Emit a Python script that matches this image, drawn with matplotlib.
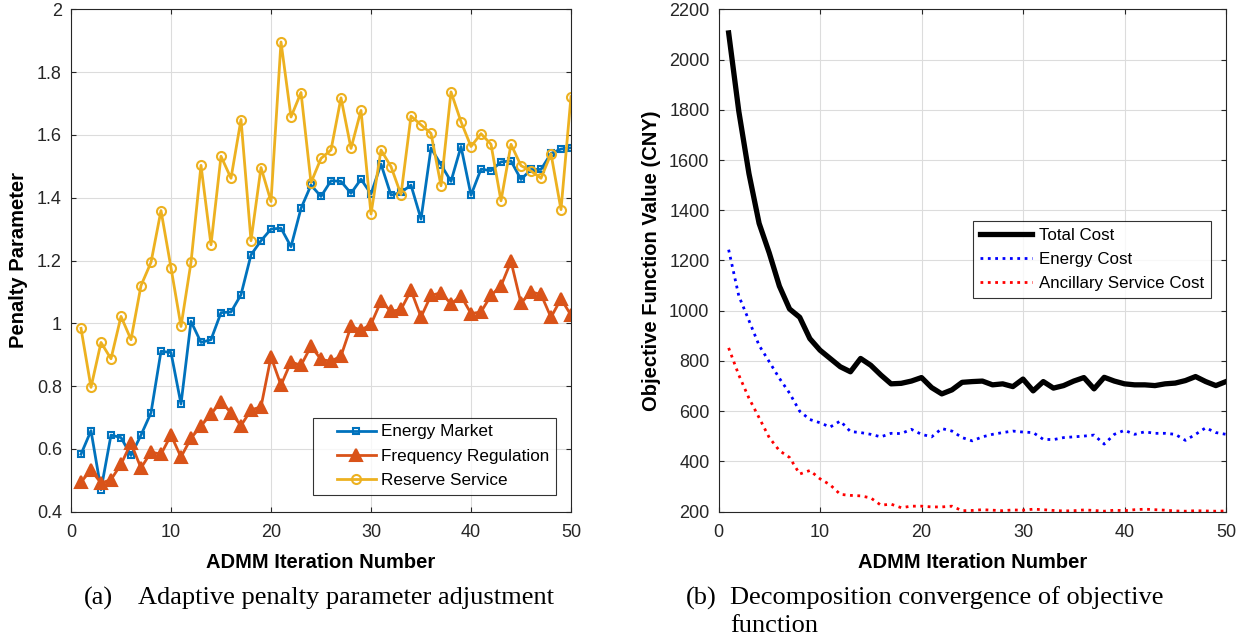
import numpy as np
import matplotlib
matplotlib.use("Agg")
from matplotlib import pyplot as plt
from matplotlib.legend_handler import HandlerLine2D
from matplotlib.ticker import FormatStrFormatter

plt.rcParams.update({"font.family": ["Liberation Sans", "DejaVu Sans"],
                     "axes.unicode_minus": False})

iters = np.arange(1, 51)

# (a) penalty parameters
energy_market = [0.583, 0.658, 0.470, 0.644, 0.636, 0.579, 0.644, 0.715, 0.911, 0.907,
                 0.743, 1.006, 0.939, 0.948, 1.034, 1.036, 1.091, 1.218, 1.263, 1.300,
                 1.303, 1.244, 1.366, 1.440, 1.404, 1.454, 1.452, 1.414, 1.459, 1.412,
                 1.507, 1.408, 1.417, 1.440, 1.332, 1.558, 1.505, 1.452, 1.563, 1.408,
                 1.491, 1.486, 1.514, 1.517, 1.458, 1.490, 1.490, 1.541, 1.555, 1.559]
freq_reg = [0.494, 0.533, 0.491, 0.502, 0.551, 0.618, 0.539, 0.590, 0.583, 0.644,
            0.574, 0.634, 0.673, 0.711, 0.750, 0.715, 0.674, 0.724, 0.734, 0.893,
            0.803, 0.877, 0.866, 0.927, 0.885, 0.879, 0.896, 0.990, 0.978, 0.997,
            1.070, 1.038, 1.044, 1.105, 1.020, 1.089, 1.097, 1.062, 1.087, 1.031,
            1.036, 1.089, 1.119, 1.197, 1.064, 1.100, 1.092, 1.019, 1.078, 1.026]
reserve = [0.984, 0.796, 0.939, 0.887, 1.022, 0.948, 1.120, 1.194, 1.359, 1.177,
           0.990, 1.194, 1.503, 1.250, 1.532, 1.462, 1.649, 1.263, 1.496, 1.388,
           1.896, 1.657, 1.735, 1.448, 1.525, 1.552, 1.718, 1.557, 1.678, 1.348,
           1.552, 1.499, 1.410, 1.660, 1.632, 1.605, 1.438, 1.737, 1.642, 1.563,
           1.604, 1.570, 1.390, 1.570, 1.502, 1.485, 1.462, 1.540, 1.362, 1.722]

# (b) objective function (CNY)
total_cost = [2106, 1794, 1546, 1348, 1230, 1098, 1007, 974, 889, 843,
              810, 777, 757, 810, 783, 744, 709, 711, 720, 734,
              694, 669, 685, 715, 718, 720, 705, 709, 698, 728,
              681, 718, 692, 702, 720, 734, 689, 735, 720, 709,
              705, 705, 702, 709, 712, 722, 738, 718, 702, 718]
energy_cost = [1243, 1059, 961, 862, 797, 731, 672, 600, 567, 554,
               537, 561, 519, 515, 508, 498, 512, 511, 528, 508,
               498, 531, 521, 495, 482, 498, 508, 515, 521, 517,
               515, 488, 487, 495, 498, 501, 505, 469, 508, 524,
               508, 518, 512, 512, 508, 484, 508, 534, 515, 508]
ancillary_cost = [852, 744, 652, 574, 495, 443, 416, 350, 364, 331,
                  307, 269, 265, 263, 255, 226, 230, 216, 222, 222,
                  219, 219, 222, 204, 205, 208, 206, 204, 207, 206,
                  210, 208, 205, 203, 204, 207, 205, 202, 206, 204,
                  208, 210, 208, 206, 203, 202, 204, 203, 202, 203]

W, H = 1247, 641
fig = plt.figure(figsize=(W / 100, H / 100), dpi=100)
grey = "#262626"


def style_axes(ax):
    ax.grid(True, color="#dcdcdc", linewidth=0.8)
    ax.set_axisbelow(True)
    for s in ax.spines.values():
        s.set_color(grey)
        s.set_linewidth(0.8)
    ax.tick_params(direction="in", length=3.6, width=0.8, color=grey,
                   top=True, right=True, labelsize=13, labelcolor=grey)
    ax.tick_params(axis="y", pad=6.5)
    ax.tick_params(axis="x", pad=9)


# panel (a)
ax1 = fig.add_axes([71 / W, 1 - 511.7 / H, 500 / W, 502.4 / H])
ax1.plot(iters, energy_market, "-s", color="#0072BD", lw=2, ms=5, mew=1.5,
         mfc="none", label="Energy Market")
ax1.plot(iters, freq_reg, "-^", color="#D95319", lw=2, ms=8, mew=1.5,
         label="Frequency Regulation")
ax1.plot(iters, reserve, "-o", color="#EDB120", lw=2, ms=6.5, mew=1.5,
         mfc="none", label="Reserve Service")
ax1.set_xlim(0, 50)
ax1.set_ylim(0.4, 2)
ax1.set_xticks(range(0, 51, 10))
ax1.set_yticks(np.arange(0.4, 2.01, 0.2))
ax1.yaxis.set_major_formatter(FormatStrFormatter("%g"))
style_axes(ax1)
ax1.set_xlabel("ADMM Iteration Number", fontsize=14.5, fontweight="bold", va="center")
ax1.xaxis.set_label_coords(0.5, -0.102)
ax1.set_ylabel("Penalty Parameter", fontsize=14.5, fontweight="bold", va="center")
ax1.yaxis.set_label_coords(-0.104, 0.5)
leg1 = ax1.legend(loc="lower right", bbox_to_anchor=(0.97, 0.033), borderaxespad=0,
                  fontsize=12.3, numpoints=1, handlelength=3.25, handletextpad=0.3,
                  borderpad=0.4, labelspacing=0.55, fancybox=False,
                  handler_map={l: HandlerLine2D(xpad=0.95) for l in ax1.get_lines()})
leg1.get_frame().set_edgecolor("black")
leg1.get_frame().set_linewidth(0.8)

# panel (b)
ax2 = fig.add_axes([718.5 / W, 1 - 511.7 / H, 507.5 / W, 502.4 / H])
ax2.plot(iters, total_cost, "-", color="black", lw=3.8, label="Total Cost")
ax2.plot(iters, energy_cost, ":", color="blue", lw=2, label="Energy Cost")
ax2.plot(iters, ancillary_cost, ":", color="red", lw=2, label="Ancillary Service Cost")
ax2.set_xlim(0, 50)
ax2.set_ylim(200, 2200)
ax2.set_xticks(range(0, 51, 10))
ax2.set_yticks(range(200, 2201, 200))
style_axes(ax2)
ax2.set_xlabel("ADMM Iteration Number", fontsize=14.5, fontweight="bold", va="center")
ax2.xaxis.set_label_coords(0.5, -0.102)
ax2.set_ylabel("Objective Function Value (CNY)", fontsize=14.5, fontweight="bold",
               va="center")
ax2.yaxis.set_label_coords(-0.133, 0.5)
leg2 = ax2.legend(loc="upper right", bbox_to_anchor=(0.97, 0.579), borderaxespad=0,
                  fontsize=12.2, handlelength=3.1, handletextpad=0.4,
                  borderpad=0.4, labelspacing=0.55, fancybox=False)
leg2.get_frame().set_edgecolor("black")
leg2.get_frame().set_linewidth(0.8)

# captions
cap = dict(fontsize=19, family=["Liberation Serif", "DejaVu Serif"], va="center")
fig.text(84 / W, 1 - 598 / H, "(a)", **cap)
fig.text(138 / W, 1 - 598 / H, "Adaptive penalty parameter adjustment", **cap)
fig.text(686 / W, 1 - 598 / H, "(b)", **cap)
fig.text(730 / W, 1 - 598 / H, "Decomposition convergence of objective", **cap)
fig.text(730 / W, 1 - 626 / H, "function", **cap)

fig.savefig("out.png", dpi=100)
